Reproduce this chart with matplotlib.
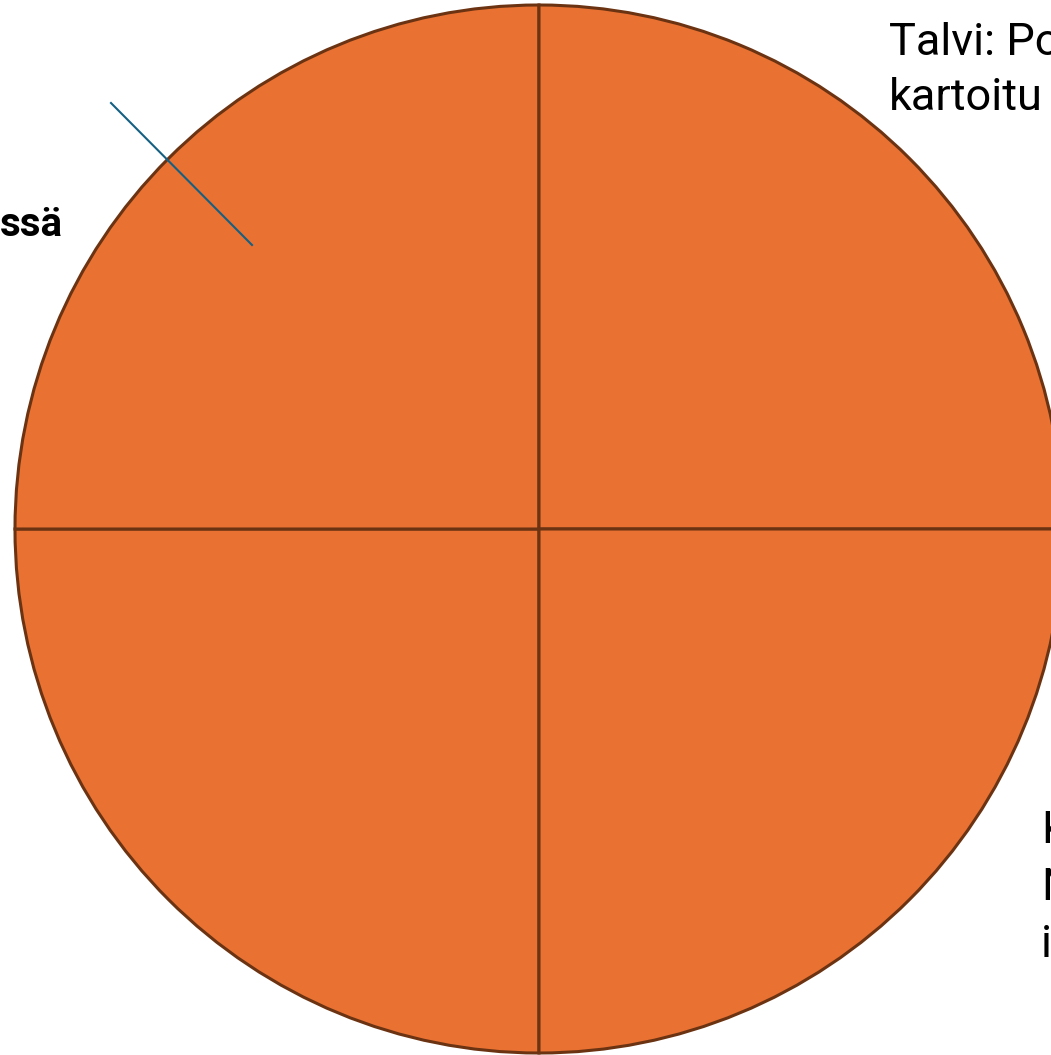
import matplotlib.pyplot as plt

# four equal quarters of the wheel
sectors = ["Talvi", "Kevät", "Kesä", "Syksy"]
shares = [25, 25, 25, 25]

# visible (cropped) label fragments
top_right_lines = ["Talvi: Po", "kartoitu"]
left_label = "ssä"
bottom_right_lines = ["K", "N", "i"]

W, H = 1051, 1055
fig = plt.figure(figsize=(W / 100, H / 100), dpi=100)
ax = fig.add_axes([0, 0, 1, 1])

ax.pie(
    shares,
    center=(539, 529),
    radius=524,
    startangle=90,
    colors=["#E97132"] * len(shares),
    wedgeprops=dict(edgecolor="#6B3312", linewidth=2.2),
    frame=True,
)
ax.set_xlim(0, W)
ax.set_ylim(H, 0)
ax.set_aspect("equal")
ax.axis("off")

# leader line in the upper-left quarter
ax.plot([111, 252], [103, 245], color="#156082", linewidth=1.5)

font = ["Roboto", "DejaVu Sans"]
ax.text(889, 55, top_right_lines[0], fontsize=32.5, family=font, ha="left", va="baseline")
ax.text(889, 110, top_right_lines[1], fontsize=32.5, family=font, ha="left", va="baseline")
ax.text(63, 236, left_label, fontsize=29, family=font, fontweight="bold", ha="right", va="baseline")
for i, s in enumerate(bottom_right_lines):
    ax.text(1041, 843 + 57 * i, s, fontsize=32.5, family=font, ha="left", va="baseline")

fig.savefig("out.png", dpi=100)
